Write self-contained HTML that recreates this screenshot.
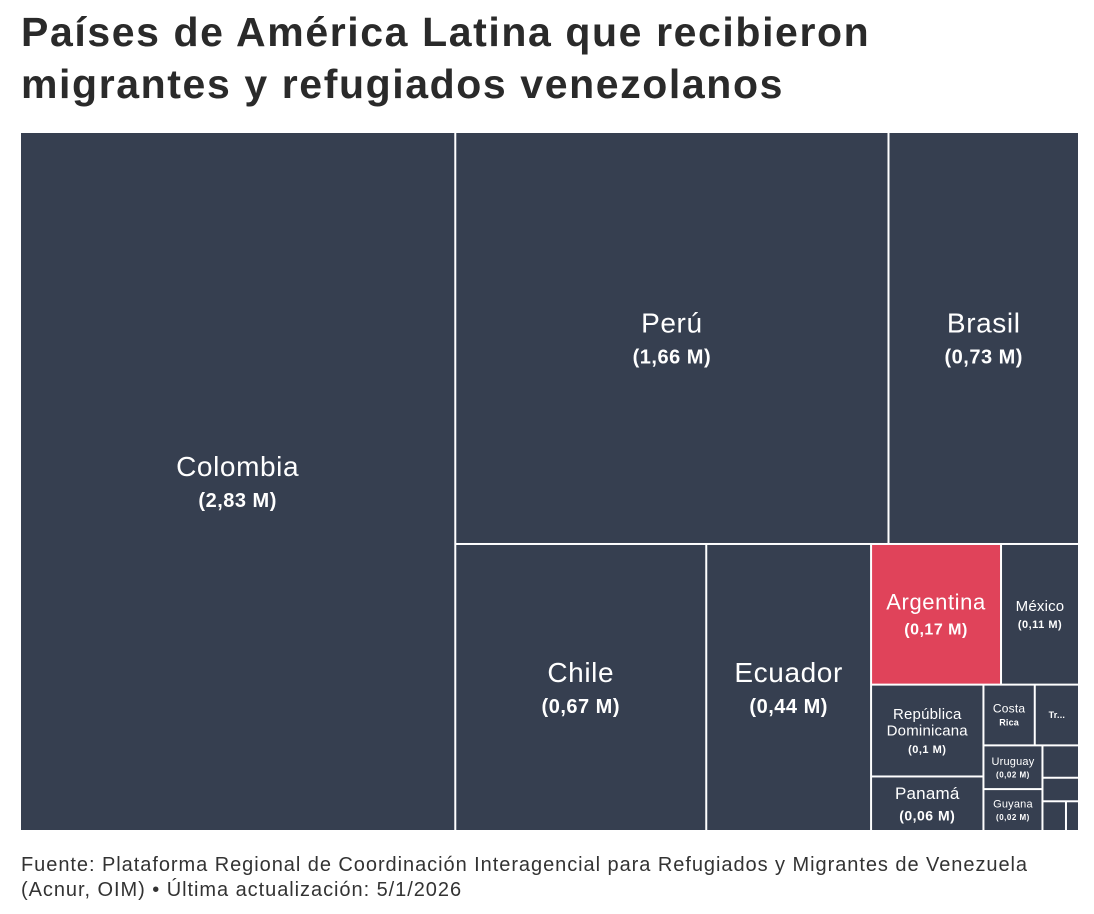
<!DOCTYPE html>
<html><head><meta charset="utf-8">
<style>
body{margin:0;background:#fff;width:1094px;height:914px;overflow:hidden;font-family:"Liberation Sans",sans-serif}
h1{position:absolute;left:21px;top:6px;margin:0;font-size:41px;line-height:52px;font-weight:bold;color:#2a2a2a;letter-spacing:1.6px;white-space:nowrap}
#foot{position:absolute;left:21px;top:853px;font-size:20px;line-height:25px;color:#333;letter-spacing:0.95px;white-space:nowrap}
svg{position:absolute;left:0;top:0}
</style></head><body>
<h1>Países de América Latina que recibieron<br>migrantes y refugiados venezolanos</h1>
<svg id="chart" width="1094" height="914"></svg>
<div id="foot">Fuente: Plataforma Regional de Coordinación Interagencial para Refugiados y Migrantes de Venezuela<br>(Acnur, OIM) • Última actualización: 5/1/2026</div>
<script>
const countries = ["Colombia","Perú","Brasil","Chile","Ecuador","Argentina","México","República Dominicana","Panamá","Costa Rica","Trinidad y Tobago","Uruguay","Guyana","Paraguay","Curazao","Bolivia","Aruba"];
const values = [2.83,1.66,0.73,0.67,0.44,0.17,0.102,0.096,0.057,0.029,0.025,0.024,0.023,0.011,0.008,0.0065,0.0036];
const valueLabels = ["2,83","1,66","0,73","0,67","0,44","0,17","0,11","0,1","0,06","0,03","0,02","0,02","0,02","0,01","0,01","0,01","0"];
const highlight = "Argentina";

// layout tree: 'x' = side by side, 'y' = stacked; leaves are indexes into the arrays
const tree = ['x',[0,['y',[['x',[1,2]],['x',[3,4,['y',[['x',[5,6]],['x',[['y',[7,8]],['y',[['x',[9,10]],['x',[['y',[11,12]],['y',[13,14,['x',[15,16]]]]]]]]]]]]]]]]]];
const styleMap = {
 "Colombia":[28,20],"Perú":[28,20],"Brasil":[28,20],"Chile":[28,20],"Ecuador":[28,20],
 "Argentina":[22,16],"México":[15,11],"República Dominicana":[15,11,["República","Dominicana"]],
 "Panamá":[17,14],"Costa Rica":[12,0,["Costa","Rica"]],"Trinidad y Tobago":[9,0,["Tr..."]],
 "Uruguay":[11,8],"Guyana":[11,8]
};

const X0=20,Y0=132,X1=1079,Y1=831;
const NS="http://www.w3.org/2000/svg";
const svg=document.getElementById('chart');
function sum(n){return typeof n==='number'?values[n]:n[1].reduce((a,c)=>a+sum(c),0);}
const rects=[];
function layout(n,x0,y0,x1,y1){
  if(typeof n==='number'){rects.push({i:n,x0,y0,x1,y1});return;}
  const total=sum(n);let p=n[0]==='x'?x0:y0;
  n[1].forEach(c=>{const f=sum(c)/total;
    if(n[0]==='x'){const q=p+(x1-x0)*f;layout(c,p,y0,q,y1);p=q;}
    else{const q=p+(y1-y0)*f;layout(c,x0,p,x1,q);p=q;}});
}
layout(tree,X0,Y0,X1,Y1);
rects.forEach(nd=>{
  const name=countries[nd.i],w=nd.x1-nd.x0,h=nd.y1-nd.y0;
  const slug=name.toLowerCase().replace(/\s+/g,'-');
  const r=document.createElementNS(NS,'rect');
  
  
  r.setAttribute('x',nd.x0+1);r.setAttribute('y',nd.y0+1);
  r.setAttribute('width',Math.max(0,w-2));r.setAttribute('height',Math.max(0,h-2));
  r.setAttribute('fill',name===highlight?'#e0435a':'#363f50');
  svg.appendChild(r);
  const st=styleMap[name];if(!st)return;
  const fs=st[0],vs=st[1],words=st[2]||[name];
  const lh=fs*1.12;
  const total=words.length*lh+(vs?vs*1.5:0);
  let y=(nd.y0+nd.y1)/2-total/2;
  words.forEach((wd,k)=>{
    const t=document.createElementNS(NS,'text');
    
    
    t.setAttribute('x',(nd.x0+nd.x1)/2);t.setAttribute('y',y+lh*0.8);
    t.setAttribute('text-anchor','middle');t.setAttribute('fill','#fff');
    const small=(name==='Costa Rica'&&k===1);
    t.setAttribute('font-size',small?9:fs);
    if(small||wd==='Tr...')t.setAttribute('font-weight','bold');
    t.setAttribute('letter-spacing',fs>=20?'0.6':'0.2');
    t.textContent=wd;svg.appendChild(t);y+=lh;
  });
  if(vs){
    const t=document.createElementNS(NS,'text');
    
    
    t.setAttribute('x',(nd.x0+nd.x1)/2);t.setAttribute('y',y+vs*1.25);
    t.setAttribute('text-anchor','middle');t.setAttribute('fill','#fff');
    t.setAttribute('font-size',vs);t.setAttribute('font-weight','bold');
    t.setAttribute('letter-spacing','0.5');
    t.textContent='('+valueLabels[nd.i]+' M)';svg.appendChild(t);
  }
});
</script>
</body></html>
